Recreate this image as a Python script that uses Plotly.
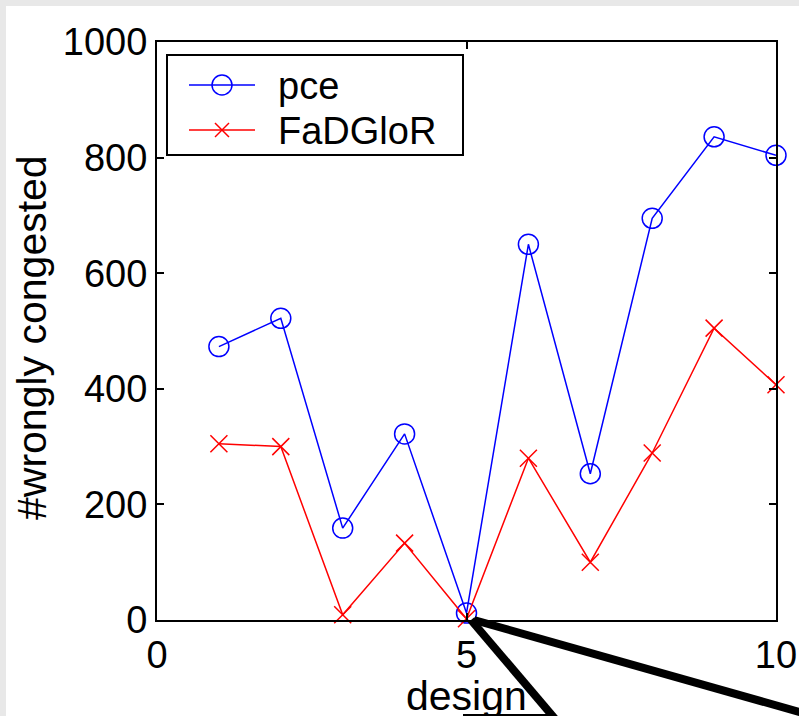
import plotly.graph_objects as go

# Number of wrongly congested nets per design
designs = [1, 2, 3, 4, 5, 6, 7, 8, 9, 10]
pce = [473, 522, 159, 322, 12, 650, 253, 695, 836, 804]
fadglor = [305, 300, 9, 133, 2, 280, 100, 289, 505, 407]

x_ticks = [0, 5, 10]
y_ticks = [0, 200, 400, 600, 800, 1000]

FONT = "Liberation Sans, Arial, Helvetica, sans-serif"
BLUE, RED = "#0000ff", "#ff0000"

# plot area in pixels
L, R, T, B = 157, 776, 42, 620
W, H = 799, 716


def px(x):
    return (x - L) / (R - L)


def py(y):
    return (B - y) / (B - T)


fig = go.Figure()
fig.add_trace(go.Scatter(
    x=designs, y=pce, name="pce", mode="lines+markers",
    line=dict(color=BLUE, width=1.5),
    marker=dict(symbol="circle-open", size=20, color=BLUE,
                line=dict(width=1.5, color=BLUE)),
    cliponaxis=False,
))
fig.add_trace(go.Scatter(
    x=designs, y=fadglor, name="FaDGloR", mode="lines+markers",
    line=dict(color=RED, width=1.5),
    marker=dict(symbol="x-thin-open", size=17, color=RED,
                line=dict(width=1.5, color=RED)),
    cliponaxis=False,
))

axis_common = dict(
    showgrid=False, zeroline=False, showline=True, linecolor="black",
    linewidth=2, mirror="ticks", ticks="inside", ticklen=7, tickwidth=2,
    tickcolor="black", automargin=False,
    tickfont=dict(family=FONT, size=38, color="black"),
)

shapes = [
    # white canvas behind the axes
    dict(type="rect", xref="paper", yref="paper", layer="below",
         x0=px(6), x1=px(W + 10), y0=py(6), y1=py(H + 10),
         fillcolor="white", line=dict(width=0)),
    # zoom callout lines
    dict(type="line", xref="paper", yref="paper",
         x0=px(471), y0=py(620), x1=px(556), y1=py(720),
         line=dict(color="black", width=8)),
    dict(type="line", xref="paper", yref="paper",
         x0=px(474), y0=py(620), x1=px(810), y1=py(715),
         line=dict(color="black", width=8)),
    dict(type="line", xref="paper", yref="paper",
         x0=px(463), y0=py(715), x1=px(553), y1=py(715),
         line=dict(color="black", width=2)),
    # legend box
    dict(type="rect", xref="paper", yref="paper",
         x0=px(167), x1=px(463), y0=py(55), y1=py(155),
         fillcolor="white", line=dict(color="black", width=2)),
    # legend sample: pce
    dict(type="line", xref="paper", yref="paper",
         x0=px(189), x1=px(255), y0=py(85), y1=py(85),
         line=dict(color=BLUE, width=1.5)),
    dict(type="circle", xref="paper", yref="paper",
         x0=px(212), x1=px(232), y0=py(75), y1=py(95),
         line=dict(color=BLUE, width=1.5)),
    # legend sample: FaDGloR
    dict(type="line", xref="paper", yref="paper",
         x0=px(189), x1=px(255), y0=py(130), y1=py(130),
         line=dict(color=RED, width=1.5)),
    dict(type="line", xref="paper", yref="paper",
         x0=px(215), x1=px(229), y0=py(123), y1=py(137),
         line=dict(color=RED, width=1.5)),
    dict(type="line", xref="paper", yref="paper",
         x0=px(215), x1=px(229), y0=py(137), y1=py(123),
         line=dict(color=RED, width=1.5)),
]

legend_labels = [
    dict(text="pce", xref="paper", yref="paper", x=px(276), y=py(86),
         xanchor="left", yanchor="middle", showarrow=False,
         font=dict(family=FONT, size=38, color="black")),
    dict(text="FaDGloR", xref="paper", yref="paper", x=px(276), y=py(131),
         xanchor="left", yanchor="middle", showarrow=False,
         font=dict(family=FONT, size=38, color="black")),
]

fig.update_layout(
    width=W, height=H,
    margin=dict(l=L, r=W - R, t=T, b=H - B, pad=0),
    paper_bgcolor="#e8e8e8",
    plot_bgcolor="white",
    showlegend=False,
    xaxis=dict(range=[0, 10], tickvals=x_ticks, **axis_common),
    yaxis=dict(range=[0, 1000], tickvals=y_ticks, **axis_common),
    shapes=shapes,
    annotations=[
        dict(text="#wrongly congested", xref="paper", yref="paper",
             x=px(32), y=py(338), textangle=-90, showarrow=False,
             xanchor="center", yanchor="middle",
             font=dict(family=FONT, size=41, color="black")),
        dict(text="design", xref="paper", yref="paper",
             x=px(466), y=py(696), showarrow=False,
             xanchor="center", yanchor="middle",
             font=dict(family=FONT, size=41, color="black")),
    ] + legend_labels,
)

fig.write_html("out.html")
